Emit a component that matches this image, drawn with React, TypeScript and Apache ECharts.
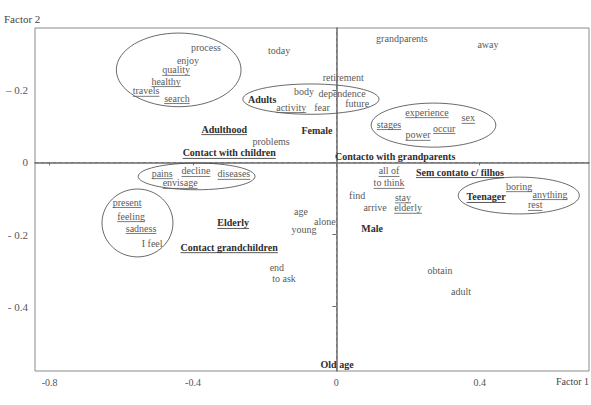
import React, { useEffect, useRef } from "react";
import * as echarts from "echarts";

// Words of the correspondence analysis map (Factor 1 = x, Factor 2 = y)
const words = [
  "process", "enjoy", "quality", "healthy", "travels", "search", "today", "grandparents", "away",
  "retirement", "body", "dependence", "Adults", "activity", "fear", "future", "Adulthood", "Female",
  "problems", "Contact with children", "Contacto with grandparents", "experience", "sex", "stages",
  "occur", "power", "pains", "decline", "diseases", "envisage", "present", "feeling", "sadness",
  "I feel", "Elderly", "Contact grandchildren", "age", "alone", "young", "end", "to ask", "all of",
  "to think", "Sem contato c/ filhos", "find", "arrive", "stay", "elderly", "Male", "Teenager",
  "boring", "anything", "rest", "obtain", "adult", "Old age",
];
const factor1 = [
  -0.364, -0.414, -0.447, -0.475, -0.531, -0.445, -0.160, 0.183, 0.423,
  0.019, -0.090, 0.016, -0.207, -0.126, -0.040, 0.058, -0.313, -0.054,
  -0.182, -0.299, 0.164, 0.253, 0.368, 0.147,
  0.301, 0.228, -0.486, -0.392, -0.286, -0.436, -0.584, -0.573, -0.545,
  -0.514, -0.288, -0.299, -0.099, -0.032, -0.090, -0.166, -0.146, 0.147,
  0.147, 0.345, 0.058, 0.108, 0.186, 0.200, 0.100, 0.418,
  0.510, 0.596, 0.555, 0.289, 0.348, 0.002,
];
const factor2 = [
  0.317, 0.283, 0.256, 0.225, 0.198, 0.178, 0.311, 0.344, 0.325,
  0.236, 0.197, 0.191, 0.175, 0.153, 0.153, 0.162, 0.092, 0.087,
  0.059, 0.026, 0.017, 0.139, 0.123, 0.106,
  0.095, 0.076, -0.030, -0.024, -0.032, -0.057, -0.110, -0.149, -0.182,
  -0.224, -0.168, -0.235, -0.135, -0.163, -0.185, -0.290, -0.323, -0.024,
  -0.057, -0.027, -0.093, -0.124, -0.097, -0.126, -0.182, -0.096,
  -0.066, -0.088, -0.118, -0.301, -0.359, -0.559,
];
const boldWords = [
  "Adults", "Adulthood", "Female", "Contact with children", "Contacto with grandparents",
  "Elderly", "Contact grandchildren", "Sem contato c/ filhos", "Male", "Teenager", "Old age",
];
const underlinedWords = [
  "quality", "healthy", "travels", "search", "activity", "Adulthood", "Contact with children",
  "experience", "sex", "stages", "occur", "power", "pains", "decline", "diseases", "envisage",
  "present", "feeling", "sadness", "Elderly", "Contact grandchildren", "all of", "to think",
  "Sem contato c/ filhos", "stay", "elderly", "Teenager", "boring", "anything", "rest",
];

// Cluster ellipses: centre (x, y) and radii in factor units
const ellipseCx = [-0.440, -0.071, 0.271, -0.390, -0.555, 0.509];
const ellipseCy = [0.256, 0.175, 0.103, -0.039, -0.168, -0.092];
const ellipseRx = [0.174, 0.190, 0.174, 0.163, 0.099, 0.169];
const ellipseRy = [0.102, 0.042, 0.061, 0.037, 0.094, 0.051];

const xTicks = [-0.8, -0.4, 0, 0.4];
const xTickLabels = ["-0.8", "-0.4", "0", "0.4"];
const yTicks = [0.2, 0, -0.2, -0.4];
const yTickLabels = ["\u2013 0.2", "0", "- 0.2", "- 0.4"];

const FONT = "Liberation Serif, DejaVu Serif, serif";

export default function App() {
  const ref = useRef<HTMLDivElement>(null);
  useEffect(() => {
    document.body.style.margin = "0";
    if (!ref.current) return;
    const chart = echarts.init(ref.current, null, { renderer: "svg" });
    const canvas = document.createElement("canvas");
    const ctx = canvas.getContext("2d")!;
    const measure = (t: string, bold: boolean) => {
      ctx.font = `${bold ? "bold " : ""}10px ${FONT}`;
      return ctx.measureText(t).width;
    };

    const wordData = words.map((w, i) => [factor1[i], factor2[i], i]);
    const ellData = ellipseCx.map((c, i) => [c, ellipseCy[i], ellipseRx[i], ellipseRy[i]]);

    chart.setOption({
      animation: false,
      textStyle: { fontFamily: FONT },
      grid: {
        left: 35, right: 2, top: 28, bottom: 34,
        show: true, borderColor: "#8a8a8a", borderWidth: 1,
      },
      xAxis: {
        type: "value", min: -0.841, max: 0.705,
        axisLine: { show: true, lineStyle: { color: "#6a6a6a", width: 1.5 } },
        axisTick: { show: true, length: 3, customValues: xTicks, lineStyle: { color: "#6a6a6a" } },
        axisLabel: {
          customValues: xTicks, margin: 6,
          formatter: (v: number) => xTickLabels[xTicks.findIndex((t) => Math.abs(t - v) < 1e-6)] ?? "",
          color: "#555", fontFamily: FONT, fontSize: 10,
        },
        splitLine: { show: false },
      },
      yAxis: {
        type: "value", min: -0.578, max: 0.372,
        axisLine: { show: true, lineStyle: { color: "#6a6a6a", width: 1.5 } },
        axisTick: { show: true, length: 4, customValues: yTicks, lineStyle: { color: "#6a6a6a" } },
        axisLabel: {
          customValues: yTicks, margin: 7,
          formatter: (v: number) => yTickLabels[yTicks.findIndex((t) => Math.abs(t - v) < 1e-6)] ?? "",
          color: "#555", fontFamily: FONT, fontSize: 11,
        },
        splitLine: { show: false },
      },
      graphic: [
        { type: "text", left: 4, top: 13, style: { text: "Factor 2", fill: "#444", fontFamily: FONT, fontSize: 11 } },
        { type: "text", right: 2, top: 376, style: { text: "Factor 1", fill: "#444", fontFamily: FONT, fontSize: 10 } },
      ],
      series: [
        {
          type: "line", data: [], silent: true,
          markLine: {
            silent: true, symbol: "none", label: { show: false },
            lineStyle: { type: [3, 3], color: "#777", width: 1 },
            data: [{ xAxis: 0 }, { yAxis: 0 }],
          },
        },
        {
          type: "custom", silent: true, data: ellData,
          renderItem: (params: any, api: any) => {
            const c = api.coord([api.value(0), api.value(1)]);
            const s = api.size([api.value(2), api.value(3)]);
            return {
              type: "ellipse",
              shape: { cx: c[0], cy: c[1], rx: s[0], ry: s[1] },
              style: { fill: "none", stroke: "#444", lineWidth: 0.8 },
            };
          },
        },
        {
          type: "custom", silent: true, data: wordData,
          renderItem: (params: any, api: any) => {
            const idx = api.value(2);
            const w = words[idx];
            const bold = boldWords.includes(w);
            const under = underlinedWords.includes(w);
            const c = api.coord([api.value(0), api.value(1)]);
            const color = bold ? "#2e2e2e" : "#5a5a5a";
            const children: any[] = [
              {
                type: "text",
                style: {
                  text: w, x: c[0], y: c[1], fill: color,
                  fontFamily: FONT, fontSize: 10, fontWeight: bold ? "bold" : "normal",
                  align: "center", verticalAlign: "middle",
                },
              },
            ];
            if (under) {
              const tw = measure(w, bold);
              const uy = c[1] + 5.5;
              children.push({
                type: "line",
                shape: { x1: c[0] - tw / 2, y1: uy, x2: c[0] + tw / 2, y2: uy },
                style: { stroke: color, lineWidth: 0.8 },
              });
            }
            return { type: "group", children };
          },
        },
      ],
    });
    return () => chart.dispose();
  }, []);
  return <div ref={ref} style={{ width: 591, height: 405 }} />;
}
